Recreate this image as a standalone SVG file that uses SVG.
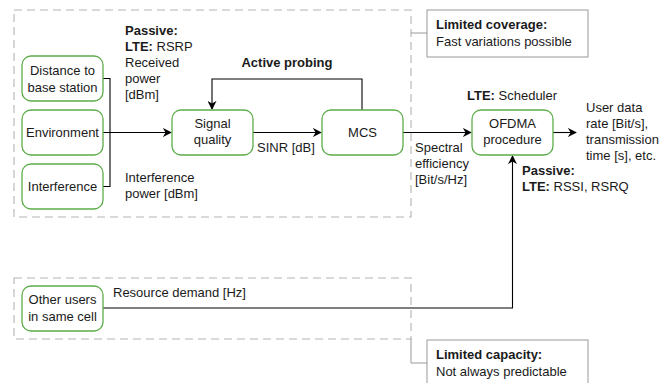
<svg xmlns="http://www.w3.org/2000/svg" width="672" height="383" viewBox="0 0 672 383">
<defs>
<marker id="arr" viewBox="0 0 10 10" refX="9" refY="5" markerWidth="9" markerHeight="9" markerUnits="userSpaceOnUse" orient="auto">
<path d="M0,0 L10,5 L0,10 L3,5 Z" fill="#000"/>
</marker>
</defs>
<style>
text{font-family:"Liberation Sans",Arial,Helvetica,sans-serif;font-size:13px;fill:#1a1a1a}
.b{font-weight:bold}
.n rect{fill:#fff;stroke:#5cad4a;stroke-width:1.3}
.c{fill:none;stroke:#000;stroke-width:1.1}
.g{fill:none;stroke:#b3b3b3;stroke-width:1.1;stroke-dasharray:8 5}
.note rect{fill:#fff;stroke:#999;stroke-width:1}
.nl{fill:none;stroke:#999;stroke-width:1}
.m{text-anchor:middle}
</style>
<rect x="0" y="0" width="672" height="383" fill="#fff"/>
<g id="regions">
<rect class="g" x="14" y="10" width="397" height="207"/>
<rect class="g" x="14" y="278" width="397" height="61"/>
<path class="nl" d="M411,33 H427"/>
<path class="nl" d="M411,339 V363 H427"/>
</g>
<g id="note-coverage" class="note">
<rect x="427" y="10" width="161" height="47"/>
<text x="436" y="29" class="b">Limited coverage:</text>
<text x="436" y="46">Fast variations possible</text>
</g>
<g id="note-capacity" class="note">
<rect x="427" y="340" width="161" height="47"/>
<text x="436" y="359" class="b">Limited capacity:</text>
<text x="436" y="376">Not always predictable</text>
</g>
<g id="connectors">
<path class="c" d="M103,78.5 H110 V132.5" stroke="#333"/>
<path class="c" d="M103,186.5 H110 V132.5" stroke="#333"/>
<path class="c" d="M103,132.5 H171" stroke-width="1.6" marker-end="url(#arr)"/>
<path class="c" d="M362,110 V79 H212 V109" marker-end="url(#arr)"/>
<path class="c" d="M253,132.5 H321" marker-end="url(#arr)"/>
<path class="c" d="M403,132.5 H471" marker-end="url(#arr)"/>
<path class="c" d="M553,132.5 H576" marker-end="url(#arr)"/>
<path class="c" d="M103,308 H512.5 V156" marker-end="url(#arr)"/>
</g>
<g id="distance" class="n">
<rect x="22" y="56" width="81" height="45" rx="9"/>
<text x="62.5" y="75" class="m">Distance to</text>
<text x="62.5" y="92" class="m">base station</text>
</g>
<g id="environment" class="n">
<rect x="22" y="110" width="81" height="45" rx="9"/>
<text x="62.5" y="137" class="m">Environment</text>
</g>
<g id="interference" class="n">
<rect x="22" y="164" width="81" height="45" rx="9"/>
<text x="62.5" y="191" class="m">Interference</text>
</g>
<g id="signal" class="n">
<rect x="172" y="110" width="81" height="45" rx="9"/>
<text x="212.5" y="128" class="m">Signal</text>
<text x="212.5" y="144" class="m">quality</text>
</g>
<g id="mcs" class="n">
<rect x="322" y="110" width="81" height="45" rx="9"/>
<text x="362.5" y="137" class="m">MCS</text>
</g>
<g id="ofdma" class="n">
<rect x="472" y="110" width="81" height="45" rx="9"/>
<text x="512.5" y="128" class="m">OFDMA</text>
<text x="512.5" y="144" class="m">procedure</text>
</g>
<g id="others" class="n">
<rect x="22" y="286" width="81" height="45" rx="9"/>
<text x="62.5" y="304" class="m">Other users</text>
<text x="62.5" y="321" class="m">in same cell</text>
</g>
<g id="labels">
<text x="125" y="35" class="b">Passive:</text>
<text x="125" y="51"><tspan class="b">LTE:</tspan> RSRP</text>
<text x="125" y="67">Received</text>
<text x="125" y="83">power</text>
<text x="125" y="99">[dBm]</text>
<text x="287" y="67" class="b m">Active probing</text>
<text x="257" y="152">SINR [dB]</text>
<text x="125" y="182">Interference</text>
<text x="125" y="198">power [dBm]</text>
<text x="415" y="152">Spectral</text>
<text x="415" y="168">efficiency</text>
<text x="415" y="184">[Bit/s/Hz]</text>
<text x="467" y="100"><tspan class="b">LTE:</tspan> Scheduler</text>
<text x="586" y="112">User data</text>
<text x="586" y="128">rate [Bit/s],</text>
<text x="586" y="144">transmission</text>
<text x="586" y="160">time [s], etc.</text>
<text x="522" y="175" class="b">Passive:</text>
<text x="522" y="191"><tspan class="b">LTE:</tspan> RSSI, RSRQ</text>
<text x="113" y="297">Resource demand [Hz]</text>
</g>
</svg>
